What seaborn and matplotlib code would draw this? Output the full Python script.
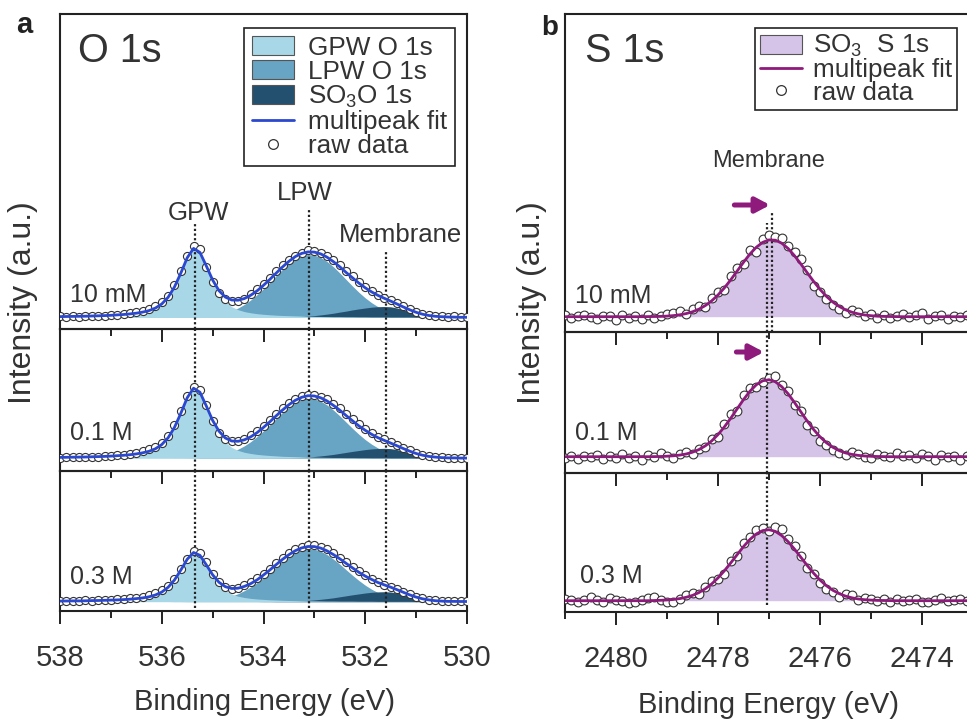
import numpy as np
import matplotlib
matplotlib.use("Agg")
import matplotlib.pyplot as plt
import seaborn as sns
from matplotlib.patches import Patch
from matplotlib.lines import Line2D
from matplotlib.ticker import MultipleLocator

sns.set_style("ticks")
plt.rcParams["font.family"] = ["Liberation Sans", "DejaVu Sans"]
plt.rcParams["mathtext.default"] = "regular"

# ---------------- data ----------------
o1s_energy = np.linspace(538.0, 530.0, 65)
s1s_energy = np.linspace(2481.0, 2473.0, 65)
concentrations = ["10 mM", "0.1 M", "0.3 M"]

o1s_gpw_10mM = [0.9,1.0,1.1,1.2,1.3,1.5,1.7,1.9,2.2,2.6, 3.0,3.6,4.3,5.4,6.9,9.4,13.5,20.2,30.4,44.3,
                59.5,68.7,64.4,50.5,35.6,23.8,15.8,10.8,7.8,5.9, 4.7,3.8,3.2,2.7,2.3,2.0,1.8,1.6,1.4,1.2,
                1.1,1.0,0.9,0.8,0.8,0.7,0.7,0.6,0.6,0.5, 0.5,0.5,0.4,0.4,0.4,0.4,0.3,0.3,0.3,0.3,
                0.3,0.3,0.3,0.2,0.2]
o1s_lpw_10mM = [0,0,0,0,0,0,0,0,0,0, 0,0,0,0,0,0,0,0,0.1,0.1,
                0.2,0.4,0.7,1.2,1.9,3.0,4.6,6.7,9.5,13.1, 17.6,22.9,28.9,35.3,41.9,48.3,54.0,58.6,61.7,63.0,
                62.4,60.0,56.0,50.7,44.5,37.9,31.4,25.2,19.6,14.8, 10.8,7.7,5.3,3.6,2.3,1.5,0.9,0.5,0.3,0.2,
                0.1,0,0,0,0]
o1s_so3_10mM = [0,0,0,0,0,0,0,0,0,0, 0,0,0,0,0,0,0,0,0,0,
                0,0,0,0,0,0,0,0,0,0, 0,0,0.1,0.1,0.2,0.3,0.4,0.7,1.0,1.4,
                1.9,2.6,3.4,4.3,5.4,6.4,7.6,8.6,9.5,10.3, 10.8,11.0,10.7,9.5,7.8,5.8,4.0,2.5,1.4,0.7,
                0.4,0.2,0.1,0,0]
o1s_raw_10mM = [1.2,0.6,1.4,0.9,1.6,1.1,1.9,1.5,2.6,2.2, 3.5,4.4,5.2,6.8,8.7,11.5,15.0,21.6,32.3,46.0,
                61.8,71.5,68.9,50.4,35.2,24.5,18.2,16.1,16.4,18.6, 23.4,28.0,33.6,39.9,46.2,52.3,57.2,61.0,64.8,67.3,
                66.8,64.0,61.5,57.4,52.6,46.1,41.0,35.6,30.2,26.8, 22.6,19.0,17.3,14.8,11.2,8.4,5.6,3.9,2.4,1.8,
                1.3,0.6,1.1,0.4,0.9]

o1s_gpw_01M = [0.9,1.0,1.1,1.2,1.3,1.5,1.7,1.9,2.2,2.6, 3.0,3.6,4.4,5.5,7.0,9.5,13.7,20.5,30.8,44.9,
               60.3,69.7,65.4,51.2,36.1,24.2,16.0,10.9,7.9,6.0, 4.8,3.9,3.3,2.8,2.4,2.0,1.8,1.6,1.4,1.3,
               1.1,1.0,0.9,0.8,0.8,0.7,0.7,0.6,0.6,0.5, 0.5,0.5,0.4,0.4,0.4,0.4,0.3,0.3,0.3,0.3,
               0.3,0.3,0.3,0.2,0.2]
o1s_lpw_01M = [0,0,0,0,0,0,0,0,0,0, 0,0,0,0,0,0,0,0,0.1,0.1,
               0.2,0.4,0.7,1.2,1.8,2.9,4.3,6.4,9.1,12.5, 16.7,21.8,27.5,33.6,39.9,46.0,51.4,55.8,58.7,60.0,
               59.4,57.1,53.3,48.2,42.4,36.1,29.9,24.0,18.7,14.1, 10.3,7.4,5.1,3.4,2.2,1.4,0.9,0.5,0.3,0.2,
               0.1,0,0,0,0]
o1s_so3_01M = [0,0,0,0,0,0,0,0,0,0, 0,0,0,0,0,0,0,0,0,0,
               0,0,0,0,0,0,0,0,0,0, 0,0,0.1,0.1,0.2,0.3,0.4,0.6,0.9,1.3,
               1.8,2.4,3.1,3.9,4.9,5.9,6.9,7.8,8.7,9.4, 9.8,10.0,9.7,8.7,7.1,5.3,3.6,2.3,1.3,0.7,
               0.3,0.1,0.1,0,0]
o1s_raw_01M = [0.7,1.3,0.9,1.5,1.2,1.8,1.6,2.2,2.5,3.1, 3.6,4.5,5.6,7.0,8.9,11.8,15.6,22.6,33.0,47.3,
               62.0,71.8,68.2,53.0,37.0,25.8,19.5,17.0,17.4,19.6, 23.1,27.5,32.8,38.6,44.5,50.2,55.3,59.4,62.3,63.5,
               63.2,61.6,58.9,54.8,49.9,44.6,39.2,34.0,29.5,25.3, 21.8,18.9,16.3,13.4,10.6,7.9,5.5,3.8,2.4,1.7,
               1.1,0.8,0.6,0.7,0.5]

o1s_gpw_03M = [0.6,0.7,0.8,0.8,0.9,1.1,1.2,1.4,1.6,1.8, 2.1,2.5,3.1,3.8,4.9,6.7,9.6,14.4,21.6,31.5,
               42.2,48.8,45.8,35.9,25.3,16.9,11.2,7.6,5.5,4.2, 3.3,2.7,2.3,1.9,1.7,1.4,1.2,1.1,1.0,0.9,
               0.8,0.7,0.6,0.6,0.5,0.5,0.5,0.4,0.4,0.4, 0.3,0.3,0.3,0.3,0.3,0.3,0.2,0.2,0.2,0.2,
               0.2,0.2,0.2,0.2,0.2]
o1s_lpw_03M = [0,0,0,0,0,0,0,0,0,0, 0,0,0,0,0,0,0,0,0.1,0.1,
               0.2,0.4,0.6,1.0,1.6,2.5,3.8,5.6,8.0,11.1, 14.8,19.2,24.3,29.7,35.2,40.7,45.4,49.3,51.9,53.0,
               52.5,50.5,47.1,42.6,37.5,31.9,26.4,21.2,16.5,12.5, 9.1,6.5,4.5,3.0,2.0,1.2,0.8,0.4,0.3,0.1,
               0.1,0,0,0,0]
o1s_so3_03M = [0,0,0,0,0,0,0,0,0,0, 0,0,0,0,0,0,0,0,0,0,
               0,0,0,0,0,0,0,0,0,0, 0,0,0.1,0.1,0.2,0.3,0.4,0.6,0.9,1.3,
               1.8,2.4,3.1,3.9,4.9,5.9,6.9,7.8,8.7,9.4, 9.8,10.0,9.7,8.7,7.1,5.3,3.6,2.3,1.3,0.7,
               0.3,0.1,0.1,0,0]
o1s_raw_03M = [0.9,0.5,1.1,0.7,1.2,1.0,1.5,1.3,2.0,2.3, 2.8,3.3,4.0,5.1,6.3,8.4,11.3,16.0,23.0,32.5,
               43.0,50.8,49.0,39.2,28.1,19.5,14.6,13.0,13.9,16.2, 19.4,23.3,28.0,33.0,38.5,43.6,48.3,52.5,55.2,56.8,
               56.4,54.9,52.3,48.6,44.0,39.4,34.9,30.6,26.5,22.9, 19.8,17.0,14.9,12.6,9.9,7.4,5.0,3.4,2.1,1.5,
               1.0,0.7,0.5,0.6,0.4]

s1s_fit_10mM = [0,0,0,0,0,0,0,0,0,0, 0,0,0,0.1,0.2,0.3,0.6,1.1,1.9,3.1,
                4.9,7.5,11.1,15.8,21.7,28.8,36.9,45.6,54.4,62.6, 69.4,74.3,76.8,76.5,73.5,68.2,61.0,52.7,43.9,35.3,
                27.3,20.4,14.7,10.3,6.9,4.5,2.8,1.7,1.0,0.5, 0.3,0.2,0.1,0,0,0,0,0,0,0,
                0,0,0,0,0]
s1s_raw_10mM = [1.5,-1.2,0.8,2.0,-0.5,-1.8,1.1,0.3,-3.5,1.6, -0.9,0.7,-2.1,1.9,-1.0,0.4,2.4,3.8,5.6,3.2,
                8.0,10.9,9.4,18.6,25.0,26.7,40.8,49.2,53.1,66.7, 64.5,77.8,81.6,80.2,78.9,70.4,64.8,57.5,46.3,31.0,
                24.6,17.8,12.2,8.1,3.4,6.5,4.8,0.6,2.9,-0.8, 1.7,-1.5,0.9,3.2,-0.6,1.4,4.1,-1.9,0.5,2.2,
                -2.6,0.8,-0.7,1.9,-1.1]
s1s_fit_01M = [0,0,0,0,0,0,0,0,0,0, 0,0,0,0,0.1,0.2,0.5,0.9,1.6,2.7,
               4.5,7.1,10.8,15.7,22.1,29.8,38.5,47.8,57.1,65.4, 71.9,75.9,77.0,74.9,70.0,62.9,54.2,44.8,35.6,27.2,
               19.9,14.0,9.5,6.1,3.8,2.3,1.3,0.7,0.4,0.2, 0.1,0,0,0,0,0,0,0,0,0,
               0,0,0,0,0]
s1s_raw_01M = [-1.4,1.2,-2.6,0.7,-0.3,2.0,-1.9,1.1,-0.8,2.5, -1.2,0.4,-3.0,1.3,-0.4,3.6,0.9,-1.5,2.7,4.8,
               3.1,8.2,9.6,17.8,19.9,32.4,42.7,46.1,61.5,68.9, 69.7,74.4,79.0,80.6,71.8,66.0,51.4,45.9,32.0,25.8,
               16.1,11.4,6.7,4.0,1.5,4.6,3.0,0.2,-1.3,2.9, 1.0,-0.5,3.3,0.4,1.8,-1.0,2.4,0.6,-2.8,1.5,
               -0.2,0.9,-3.3,0.5,-0.7]
s1s_fit_03M = [0,0,0,0,0,0,0,0,0,0, 0,0,0,0,0.2,0.4,0.7,1.2,2.1,3.4,
               5.3,8.1,11.9,16.7,22.8,29.9,37.8,46.0,54.1,61.2, 66.7,70.1,71.0,69.3,65.1,59.0,51.6,43.4,35.2,27.5,
               20.7,15.0,10.5,7.1,4.6,2.9,1.7,1.0,0.6,0.3, 0.2,0.1,0,0,0,0,0,0,0,0,
               0,0,0,0,0]
s1s_raw_03M = [1.8,0.2,-1.5,1.1,3.3,0.6,-1.2,2.4,0.9,-0.4, -2.0,-1.1,0.8,2.2,3.4,1.0,-0.9,-1.8,1.4,5.6,
               8.1,6.4,13.7,19.2,22.1,27.0,39.6,44.2,57.3,64.0, 70.6,72.3,70.2,74.0,71.6,61.8,54.9,44.3,33.0,26.8,
               18.0,11.2,8.6,3.9,6.9,5.8,0.8,2.6,1.5,-0.6, 1.9,-0.9,2.1,-0.8,0.3,1.6,-1.2,-1.5,0.4,2.3,
               -0.3,0.9,1.7,-0.6,0.8]

# peak reference positions (eV)
o1s_peaks = {"GPW": 535.35, "LPW": 533.1, "Membrane": 531.6}
s1s_peak_ref = 2477.03
s1s_peak_10mM = 2476.94

# ---------------- style ----------------
GPW_C = "#a8d8e8"
LPW_C = "#68a4c4"
SO3_C = "#24506f"
FIT_BLUE = "#2b48d0"
S_FILL = "#d5c4e8"
S_LINE = "#8e1a7c"
TXT = "#333333"
SPINE = "#222222"

W, H = 967, 719
fig = plt.figure(figsize=(W / 100, H / 100), dpi=100)
fig.patch.set_facecolor("white")


def px_axes(left, top, right, bottom):
    ax = fig.add_axes([left / W, 1 - bottom / H, (right - left) / W, (bottom - top) / H])
    ax.set_facecolor("none")
    return ax


def style_axis(ax, xlim, show_labels):
    ax.set_xlim(*xlim)
    ax.xaxis.set_major_locator(MultipleLocator(2))
    ax.xaxis.set_minor_locator(MultipleLocator(1))
    ax.set_yticks([])
    ax.tick_params(axis="x", which="major", direction="out", length=9, width=1.4,
                   color=SPINE, labelsize=21, labelcolor=TXT, pad=15,
                   top=False, bottom=True, labelbottom=show_labels)
    ax.tick_params(axis="x", which="minor", direction="out", length=5, width=1.4,
                   color=SPINE, top=False, bottom=True)
    for sp in ax.spines.values():
        sp.set_visible(True)
        sp.set_linewidth(1.5)
        sp.set_color(SPINE)
    ax.set_xlabel("")
    ax.set_ylabel("")


dotted = (0, (1, 1.1))

# ---------------- panel a: O 1s ----------------
a_rows = [(14, 329), (329, 471), (471, 611)]
a_ylims = [(-11.5, 303.5), (-12.7, 129.3), (-9.3, 130.7)]
o1s_sets = [
    (o1s_gpw_10mM, o1s_lpw_10mM, o1s_so3_10mM, o1s_raw_10mM),
    (o1s_gpw_01M, o1s_lpw_01M, o1s_so3_01M, o1s_raw_01M),
    (o1s_gpw_03M, o1s_lpw_03M, o1s_so3_03M, o1s_raw_03M),
]
a_label_y = [15.5, 18.3, 17.7]
a_axes = []
for k, ((top, bot), ylim, (gpw, lpw, so3, raw)) in enumerate(zip(a_rows, a_ylims, o1s_sets)):
    ax = px_axes(60, top, 467, bot)
    a_axes.append(ax)
    gpw = np.asarray(gpw, float)
    lpw = np.asarray(lpw, float)
    so3 = np.asarray(so3, float)
    fit = gpw + lpw + so3
    ax.fill_between(o1s_energy, 0, lpw, color=LPW_C, lw=0, zorder=1)
    ax.fill_between(o1s_energy, 0, so3, color=SO3_C, lw=0, zorder=1.1)
    ax.fill_between(o1s_energy, 0, gpw, color=GPW_C, lw=0, zorder=1.2)
    sns.scatterplot(x=o1s_energy, y=raw, ax=ax, marker="o", s=34, color="white",
                    edgecolor="#333333", linewidth=0.8, zorder=3, legend=False)
    sns.lineplot(x=o1s_energy, y=fit, ax=ax, color=FIT_BLUE, lw=2.0, zorder=4, legend=False)
    ax.set_ylim(*ylim)
    style_axis(ax, (538, 530), k == 2)
    ax.text(537.8, a_label_y[k], concentrations[k], fontsize=18, color=TXT, ha="left", va="baseline", zorder=6)
    if k == 0:
        tops = {"GPW": 95.0, "LPW": 107.0, "Membrane": 67.0}
        for name, xv in o1s_peaks.items():
            ax.vlines(xv, ylim[0], tops[name], colors="#222222", linestyles=dotted, lw=1.6, zorder=2.5)
        ax.text(535.27, 97.5, "GPW", fontsize=18.5, color=TXT, ha="center", va="baseline")
        ax.text(533.19, 117.0, "LPW", fontsize=18.5, color=TXT, ha="center", va="baseline")
        ax.text(530.1, 75.5, "Membrane", fontsize=18.5, color=TXT, ha="right", va="baseline")
    else:
        lo = ylim[0] if k == 1 else -6.0
        for xv in o1s_peaks.values():
            ax.vlines(xv, lo, ylim[1], colors="#222222", linestyles=dotted, lw=1.6, zorder=2.5)

leg_a = a_axes[0].legend(
    handles=[
        Patch(facecolor=GPW_C, edgecolor="#555555", lw=0.8, label="GPW O 1s"),
        Patch(facecolor=LPW_C, edgecolor="#555555", lw=0.8, label="LPW O 1s"),
        Patch(facecolor=SO3_C, edgecolor="#555555", lw=0.8, label="SO$_3$O 1s"),
        Line2D([], [], color=FIT_BLUE, lw=2, label="multipeak fit"),
        Line2D([], [], ls="none", marker="o", mfc="white", mec="#333333", ms=7, mew=0.9, label="raw data"),
    ],
    loc="upper right", bbox_to_anchor=(455 / W, 1 - 28 / H), bbox_transform=fig.transFigure,
    fontsize=18.8, frameon=True, fancybox=False, edgecolor=SPINE, framealpha=1,
    borderpad=0.3, labelspacing=0.0, handlelength=1.6, handleheight=0.75,
    handletextpad=0.55, borderaxespad=0)
leg_a.get_frame().set_linewidth(1.2)
for t in leg_a.get_texts():
    t.set_color(TXT)

# ---------------- panel b: S 1s ----------------
b_rows = [(14, 332), (332, 473), (473, 612)]
b_ylims = [(-15.3, 302.7), (-16.3, 124.7), (-11.3, 127.7)]
s1s_sets = [(s1s_fit_10mM, s1s_raw_10mM), (s1s_fit_01M, s1s_raw_01M), (s1s_fit_03M, s1s_raw_03M)]
b_label_y = [13.7, 16.7, 17.7]
b_axes = []
for k, ((top, bot), ylim, (fit, raw)) in enumerate(zip(b_rows, b_ylims, s1s_sets)):
    ax = px_axes(565, top, 973, bot)
    b_axes.append(ax)
    fit = np.asarray(fit, float)
    ax.fill_between(s1s_energy, 0, fit, color=S_FILL, lw=0, zorder=1)
    sns.scatterplot(x=s1s_energy, y=raw, ax=ax, marker="o", s=40, color="white",
                    edgecolor="#333333", linewidth=0.8, zorder=3, legend=False)
    sns.lineplot(x=s1s_energy, y=fit, ax=ax, color=S_LINE, lw=2.0, zorder=4, legend=False)
    ax.set_ylim(*ylim)
    style_axis(ax, (2481, 2473), k == 2)
    ax.text(2480.8 if k < 2 else 2480.7, b_label_y[k], concentrations[k], fontsize=18, color=TXT,
            ha="left", va="baseline", zorder=6)
    if k == 0:
        ax.vlines(s1s_peak_ref, ylim[0], 93.7, colors="#222222", linestyles=dotted, lw=1.6, zorder=2.5)
        ax.vlines(s1s_peak_10mM, ylim[0], 104.7, colors="#222222", linestyles=dotted, lw=1.6, zorder=2.5)
        ax.text(2477.0, 149.7, "Membrane", fontsize=17, color=TXT, ha="center", va="baseline")
        ax.annotate("", xy=(2476.98, 111.7), xytext=(2477.68, 111.7),
                    arrowprops=dict(arrowstyle="-|>,head_length=0.6,head_width=0.32", lw=3.6,
                                    color=S_LINE, shrinkA=0, shrinkB=0, mutation_scale=14))
    elif k == 1:
        ax.vlines(s1s_peak_ref, ylim[0], ylim[1], colors="#222222", linestyles=dotted, lw=1.6, zorder=2.5)
        ax.annotate("", xy=(2477.1, 104.7), xytext=(2477.64, 104.7),
                    arrowprops=dict(arrowstyle="-|>,head_length=0.6,head_width=0.32", lw=3.6,
                                    color=S_LINE, shrinkA=0, shrinkB=0, mutation_scale=14))
    else:
        ax.vlines(s1s_peak_ref, -4.3, ylim[1], colors="#222222", linestyles=dotted, lw=1.6, zorder=2.5)

leg_b = b_axes[0].legend(
    handles=[
        Patch(facecolor=S_FILL, edgecolor="#555555", lw=0.8, label="SO$_3$  S 1s"),
        Line2D([], [], color=S_LINE, lw=2, label="multipeak fit"),
        Line2D([], [], ls="none", marker="o", mfc="white", mec="#333333", ms=7, mew=0.9, label="raw data"),
    ],
    loc="upper right", bbox_to_anchor=(957 / W, 1 - 28 / H), bbox_transform=fig.transFigure,
    fontsize=18.8, frameon=True, fancybox=False, edgecolor=SPINE, framealpha=1,
    borderpad=0.2, labelspacing=-0.05, handlelength=1.6, handleheight=0.75,
    handletextpad=0.4, borderaxespad=0)
leg_b.get_frame().set_linewidth(1.2)
for t in leg_b.get_texts():
    t.set_color(TXT)

# ---------------- figure-level text ----------------
fig.text(16 / W, 1 - 33 / H, "a", fontsize=21, fontweight="bold", color="#222222", va="baseline")
fig.text(541 / W, 1 - 35 / H, "b", fontsize=20, fontweight="bold", color="#222222", va="baseline")
fig.text(78 / W, 1 - 62 / H, "O 1s", fontsize=28.5, color=TXT, va="baseline")
fig.text(585 / W, 1 - 62 / H, "S 1s", fontsize=28.5, color=TXT, va="baseline")
fig.text(23 / W, 1 - 303 / H, "Intensity (a.u.)", rotation=90, fontsize=23, color=TXT, ha="center", va="center")
fig.text(532 / W, 1 - 303 / H, "Intensity (a.u.)", rotation=90, fontsize=23, color=TXT, ha="center", va="center")
fig.text(265 / W, 1 - 702 / H, "Binding Energy (eV)", fontsize=21, color=TXT, ha="center", va="center")
fig.text(768 / W, 1 - 705 / H, "Binding Energy (eV)", fontsize=21, color=TXT, ha="center", va="center")

fig.savefig("out.png", dpi=100, facecolor="white")
